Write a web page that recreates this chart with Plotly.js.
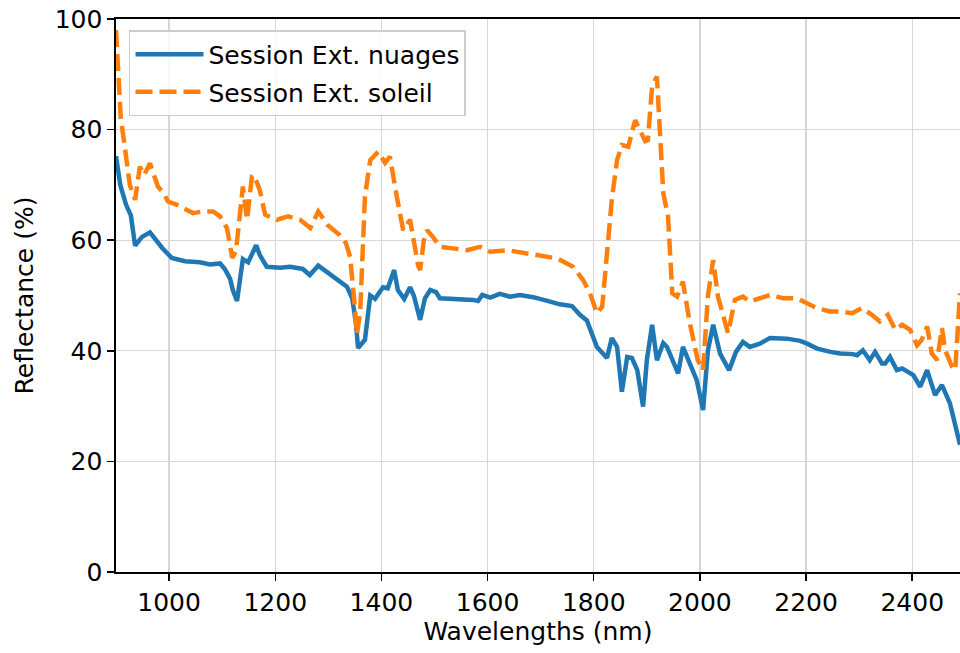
<!DOCTYPE html>
<html>
<head>
<meta charset="utf-8">
<script src="https://cdn.plot.ly/plotly-3.0.1.min.js"></script>
<style>html,body{margin:0;padding:0;background:#fff;}#chart{width:960px;height:653px;}</style>
</head>
<body>
<div id="chart"></div>
<script>
// Session Ext. nuages (wavelength nm, reflectance %)
const nuagesWl = [900,908,919,928,936,949,964,975,987,1005,1030,1058,1077,1096,1105,1115,1120,1128,1139,1149,1164,1171,1184,1209,1228,1252,1265,1281,1309,1322,1335,1345,1352,1356,1369,1379,1388,1403,1412,1424,1431,1443,1454,1461,1473,1482,1492,1503,1510,1573,1582,1590,1605,1623,1642,1661,1686,1718,1736,1759,1774,1787,1797,1806,1825,1834,1844,1853,1863,1872,1882,1893,1900,1910,1919,1931,1938,1959,1968,1981,1994,2006,2015,2025,2038,2055,2068,2081,2094,2113,2132,2164,2189,2202,2221,2246,2264,2288,2296,2307,2320,2330,2343,2349,2358,2371,2381,2392,2402,2415,2428,2443,2456,2471,2484,2490];
const nuagesRefl = [75.2,70,66.4,64.5,59,60.6,61.4,60,58.6,56.8,56.2,56,55.6,55.8,54.8,53,51,49,56.6,56,59.1,57.3,55.2,55,55.2,54.8,53.7,55.4,53.4,52.6,51.6,49.5,45,40.5,42,50,49.4,51.5,51.3,54.6,51,49.4,51.5,50,45.6,49.5,51,50.6,49.5,49.2,49,50.1,49.6,50.3,49.8,50.1,49.7,48.9,48.4,48.1,46.5,45.5,43,40.7,38.7,42.3,40.7,32.6,38.9,38.7,36.5,29.9,38.3,44.7,38.3,41.4,40.7,35.9,40.7,37.7,34.7,29.3,40,44.7,39.5,36.5,39.8,41.6,40.7,41.3,42.3,42.2,41.8,41.3,40.4,39.8,39.5,39.4,39.2,40.1,38.3,39.8,37.7,37.7,38.9,36.5,36.8,36.2,35.6,33.5,36.5,32,33.8,30.5,25.1,23];

// Session Ext. soleil
const soleilWl = [900,904,909,915,921,926,936,945,953,964,979,990,998,1015,1045,1064,1083,1096,1109,1119,1126,1134,1139,1147,1156,1160,1171,1181,1203,1224,1247,1266,1281,1299,1322,1333,1341,1348,1354,1360,1365,1369,1379,1394,1407,1416,1429,1441,1454,1461,1469,1473,1480,1486,1497,1510,1561,1586,1605,1637,1693,1731,1761,1780,1793,1806,1816,1825,1834,1844,1853,1865,1878,1887,1897,1902,1910,1919,1925,1931,1940,1948,1957,1968,1981,1996,2006,2015,2025,2034,2053,2066,2081,2094,2132,2157,2183,2202,2221,2245,2264,2287,2305,2324,2339,2354,2368,2381,2396,2409,2418,2428,2437,2447,2456,2462,2475,2481,2486,2490];
const soleilRefl = [98,90,82,78,74,70,67.3,73.3,71.8,73.9,69.7,68.5,67,66.4,64.9,65.2,65.2,64.3,62.2,56.8,58,66,69.7,63.7,71.5,71.8,69,64.6,63.7,64.3,63.7,62.2,65.2,62.7,60.9,59.5,57,50,43,47,58,67.9,74.5,76,74,75.1,67.9,61.8,63.7,60,55.5,54.6,60,61.8,60.6,58.8,58.2,58.8,57.9,58.2,57.3,56.7,55.2,52.8,50.4,46.8,48,57.7,67.3,74.5,77.2,76.9,81.7,79.9,77.9,78.1,87.8,89.6,80.5,68.5,64.3,50.4,49.8,52.5,45,38.3,36.5,49.8,56.4,49.8,43.2,49.2,49.8,48.9,50.1,49.5,49.5,48.6,47.7,47.1,47.1,46.8,47.7,46.5,45.3,46.5,43.8,44.7,43.8,41,42,44.4,39.5,38.3,44.1,40.1,37.1,36.5,43.2,50.4];

const seriesNames = ["Session Ext. nuages", "Session Ext. soleil"];
const xTicks = [1000,1200,1400,1600,1800,2000,2200,2400];
const yTicks = [0,20,40,60,80,100];

const font = "DejaVu Sans, sans-serif";
const fs = 25;
const traces = [
  {x: nuagesWl, y: nuagesRefl, type: "scatter", mode: "lines", name: seriesNames[0],
   legendgroup: "a", line: {color: "#1f77b4", width: 4.5}},
  {x: soleilWl, y: soleilRefl, type: "scatter", mode: "lines", name: seriesNames[1],
   legendgroup: "b", line: {color: "#ff7f0e", width: 4.5, dash: "17px,7px"}}
];
const layout = {
  width: 960, height: 653,
  margin: {l: 116, r: 0, t: 19, b: 81, pad: 0},
  paper_bgcolor: "#fff", plot_bgcolor: "#fff",
  font: {family: font, size: fs, color: "#000"},
  showlegend: true,
  legend: {x: 0.0154, y: 0.98, xanchor: "left", yanchor: "top",
    bgcolor: "rgba(255,255,255,0.8)", bordercolor: "#cccccc", borderwidth: 1.5,
    itemwidth: 68, tracegroupgap: 2,
    font: {family: font, size: fs, color: "#000"}},
  xaxis: {range: [900, 2490], tickvals: xTicks, ticktext: xTicks.map(String),
    showgrid: true, gridcolor: "#d6d6d6", gridwidth: 1.3,
    showline: true, linecolor: "#000", linewidth: 1.6, mirror: true,
    ticks: "outside", ticklen: 7, tickwidth: 1.5, tickcolor: "#000",
    zeroline: false, tickfont: {family: font, size: fs},
    title: {text: "Wavelengths (nm)", font: {family: font, size: fs}, standoff: 6}},
  yaxis: {range: [0, 100], tickvals: yTicks, ticktext: yTicks.map(String),
    showgrid: true, gridcolor: "#d6d6d6", gridwidth: 1.3,
    showline: true, linecolor: "#000", linewidth: 1.6, mirror: false,
    ticks: "outside", ticklen: 7, tickwidth: 1.5, tickcolor: "#000",
    zeroline: false, tickfont: {family: font, size: fs},
    title: {text: "Reflectance (%)", font: {family: font, size: fs}, standoff: 14}}
};
Plotly.newPlot("chart", traces, layout, {displayModeBar: false, staticPlot: true});
</script>
</body>
</html>
